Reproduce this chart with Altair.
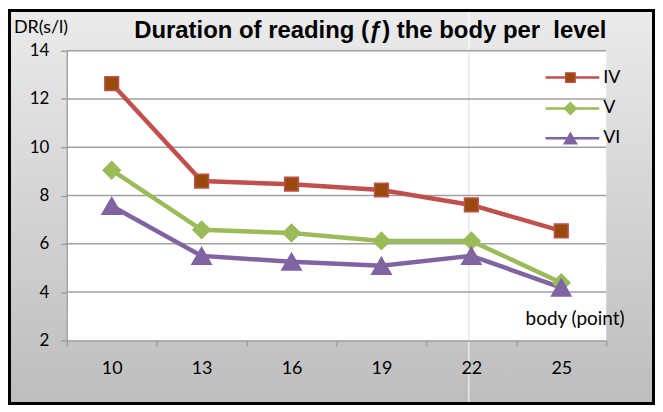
import altair as alt
import pandas as pd

# ---- data ----
bodies = ["10", "13", "16", "19", "22", "25"]
series_names = ["IV", "V", "VI"]
iv_values = [12.64, 8.60, 8.47, 8.23, 7.61, 6.54]
v_values = [9.05, 6.58, 6.45, 6.12, 6.12, 4.39]
vi_values = [7.57, 5.50, 5.26, 5.09, 5.50, 4.19]
y_ticks = [2, 4, 6, 8, 10, 12, 14]

title_text = "Duration of reading (ƒ) the body per \u00a0level"
y_title = "DR(s/l)"
x_title = "body (point)"

rows = []
for name, vals in zip(series_names, [iv_values, v_values, vi_values]):
    for b, v in zip(bodies, vals):
        rows.append({"body": b, "series": name, "value": v})
df = pd.DataFrame(rows)
grid_df = pd.DataFrame({"value": y_ticks[1:]})
one = pd.DataFrame({"a": [0]})

# ---- layout ----
W, H = 542, 291
PL, PT, PR, PB = 59, 42, 49, 65
FONT = "Lato"

styles = {
    "IV": dict(line="#c0504d", fill="#984a0c", stroke="#c0504d", shape="square", size=190, lsize=95),
    "V": dict(line="#9bbb59", fill="#9bbb59", stroke="#9bbb59", shape="diamond", size=300, lsize=150),
    "VI": dict(line="#8064a2", fill="#8064a2", stroke="#8064a2", shape="triangle-up", size=380, lsize=170),
}

x_enc = alt.X(
    "body:O",
    scale=alt.Scale(type="band", domain=bodies, paddingInner=0, paddingOuter=0),
    axis=alt.Axis(
        tickBand="extent", labelAngle=0, title=None, domainColor="#a0a0a0", domainWidth=1.5,
        tickColor="#a0a0a0", tickWidth=1.5, tickSize=6, labelPadding=13, labelFontSize=18,
        labelFont=FONT, labelColor="#000000", zindex=1, grid=False,
    ),
)
y_scale = alt.Scale(domain=[2, 14], nice=False, zero=False)
y_axis = alt.Axis(
    values=y_ticks, title=None, domainColor="#a0a0a0", domainWidth=1.5, tickColor="#a0a0a0",
    tickWidth=1.5, tickSize=6, labelPadding=12, labelFontSize=17, labelFont=FONT,
    labelColor="#000000", zindex=1, grid=False,
)
y_enc = alt.Y("value:Q", scale=y_scale, axis=y_axis)

bg_gradient = alt.Gradient(
    gradient="linear",
    stops=[alt.GradientStop(color="#ebebeb", offset=0), alt.GradientStop(color="#bdbdbd", offset=1)],
    x1=0, x2=0, y1=0, y2=1,
)

layers = []
# outer background with border
layers.append(
    alt.Chart(one).mark_rect(fill=bg_gradient, stroke="#000000", strokeWidth=3).encode(
        x=alt.value(-PL + 1.5), x2=alt.value(W + PR - 1.5), y=alt.value(-PT + 1.5), y2=alt.value(H + PB - 1.5)
    )
)
# white artifact line through background
layers.append(
    alt.Chart(one).mark_rule(color="#ffffff", strokeWidth=1).encode(
        x=alt.value(404), y=alt.value(-PT + 3), y2=alt.value(H + PB - 3)
    )
)
# plot area
layers.append(
    alt.Chart(one).mark_rect(fill="#ffffff").encode(
        x=alt.value(0), x2=alt.value(W), y=alt.value(0), y2=alt.value(H)
    )
)
layers.append(
    alt.Chart(one).mark_rule(color="#dedede", strokeWidth=1).encode(
        x=alt.value(404), y=alt.value(0), y2=alt.value(H)
    )
)
# grid lines
layers.append(
    alt.Chart(grid_df).mark_rule(color="#a0a0a0", strokeWidth=1.5).encode(
        y=y_enc, x=alt.value(0), x2=alt.value(W)
    )
)

for name in series_names:
    st = styles[name]
    base = alt.Chart(df).transform_filter(alt.datum.series == name)
    layers.append(base.mark_line(color=st["line"], strokeWidth=4.5).encode(x=x_enc, y=y_enc))
for name in series_names:
    st = styles[name]
    base = alt.Chart(df).transform_filter(alt.datum.series == name)
    layers.append(
        base.mark_point(
            shape=st["shape"], size=st["size"], filled=True, fill=st["fill"], stroke=st["stroke"],
            strokeWidth=1.5, opacity=1,
        ).encode(x=x_enc, y=y_enc)
    )

# legend
leg_y = [27, 58, 88]
for name, ly in zip(series_names, leg_y):
    st = styles[name]
    ldf = pd.DataFrame({"label": [name]})
    layers.append(
        alt.Chart(ldf).mark_rule(color=st["line"], strokeWidth=2.5).encode(
            x=alt.value(481), x2=alt.value(535), y=alt.value(ly)
        )
    )
    layers.append(
        alt.Chart(ldf).mark_point(
            shape=st["shape"], size=st["lsize"], filled=True, fill=st["fill"], stroke=st["stroke"],
            strokeWidth=1.2, opacity=1,
        ).encode(x=alt.value(506), y=alt.value(ly))
    )
    layers.append(
        alt.Chart(ldf).mark_text(align="left", baseline="middle", font=FONT, fontSize=18, color="#000000").encode(
            x=alt.value(539), y=alt.value(ly), text="label:N"
        )
    )

# texts
layers.append(
    alt.Chart(pd.DataFrame({"t": [title_text]})).mark_text(
        align="center", baseline="alphabetic", font="Liberation Sans", fontSize=24, fontWeight="bold",
        color="#000000"
    ).encode(x=alt.value(305), y=alt.value(-13), text="t:N")
)
layers.append(
    alt.Chart(pd.DataFrame({"t": [y_title]})).mark_text(
        align="left", baseline="middle", font=FONT, fontSize=18, color="#000000"
    ).encode(x=alt.value(-53), y=alt.value(-23), text="t:N")
)
layers.append(
    alt.Chart(pd.DataFrame({"t": [x_title]})).mark_text(
        align="left", baseline="middle", font=FONT, fontSize=19, color="#000000"
    ).encode(x=alt.value(461), y=alt.value(270), text="t:N")
)

chart = (
    alt.layer(*layers)
    .properties(
        width=W, height=H,
        autosize=alt.AutoSizeParams(type="none"),
        padding={"left": PL, "top": PT, "right": PR, "bottom": PB},
        background="#ffffff",
    )
    .configure_view(stroke=None)
)

chart.save("out.html", embed_options={"renderer": "svg", "actions": False})
